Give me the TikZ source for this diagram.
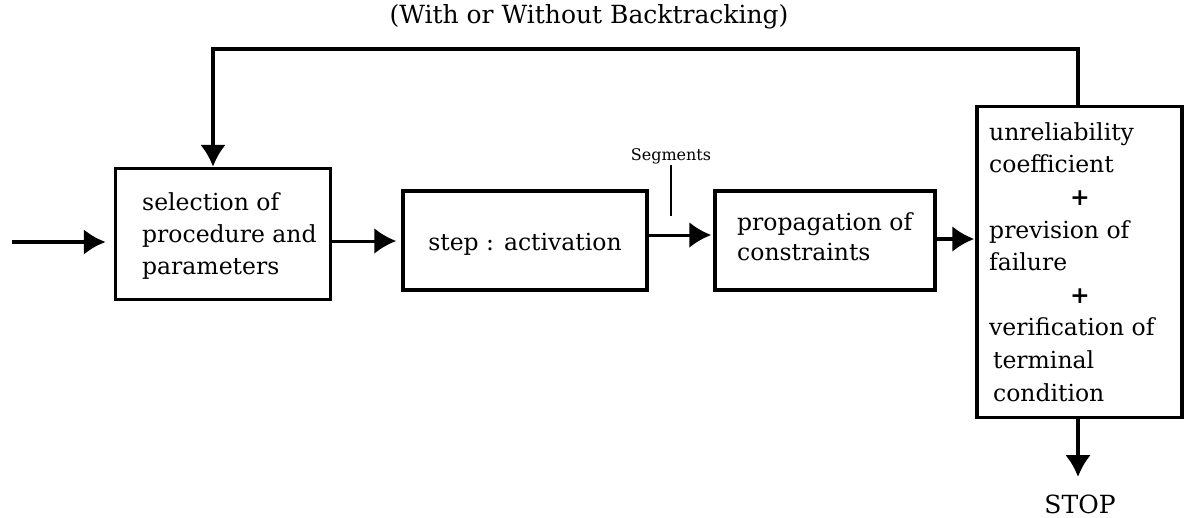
\documentclass[tikz,border=0pt]{standalone}
\usepackage{fontspec}
\setmainfont{DejaVu Serif}
\usetikzlibrary{arrows.meta}
\begin{document}
\begin{tikzpicture}[x=1pt,y=-1pt,
  box/.style={draw,line width=3.5pt,inner sep=0pt},
  conn/.style={line width=3pt,-{Latex[length=22pt,width=26pt]}},
  lbl/.style={font=\fontsize{23.5}{30}\selectfont,inner sep=0pt}]
\useasboundingbox (0,0) rectangle (1191,517);
% boxes
\node[box,minimum width=215pt,minimum height=131pt] (b1) at (223,234) {};
\node[box,minimum width=244pt,minimum height=99pt] (b2) at (525,240.5) {};
\node[box,minimum width=220pt,minimum height=99pt] (b3) at (825,240.5) {};
\node[box,minimum width=205pt,minimum height=311pt] (b4) at (1079.5,262) {};
% texts
\node[lbl,anchor=west,align=left,font=\fontsize{23.5}{32}\selectfont] (t1) at (142,236) {selection of\\procedure and\\parameters};
\node[lbl] (t2) at (525,244) {step : activation};
\node[lbl,anchor=west,align=left,font=\fontsize{23.5}{30}\selectfont] (t3) at (737,237) {propagation of\\constraints};
\node[lbl,anchor=west,align=left,font=\fontsize{23.5}{32.6}\selectfont] (t4) at (989,262) {unreliability\\coefficient\\\hspace*{81pt}\textbf{+}\\prevision of\\failure\\\hspace*{81pt}\textbf{+}\\verification of\\\,terminal\\\,condition};
\node[lbl,font=\fontsize{25}{30}\selectfont] (title) at (589,17) {(With or Without Backtracking)};
\node[lbl,font=\fontsize{16}{20}\selectfont] (seg) at (671,156) {Segments};
\node[lbl,font=\fontsize{25}{30}\selectfont] (stop) at (1080,504) {STOP};
% coordinates
\coordinate (in) at (12,242);
\coordinate (s1) at (671,165);
\coordinate (s2) at (671,216);
\coordinate (fb1) at (1078,49);
\coordinate (fb2) at (213,49);
% connectors
\draw[conn,line width=4.5pt,shorten >=8pt] (in) -- (b1.west |- in);
\draw[conn,shorten >=5pt] (b1.east |- 0,241) -- (b2.west |- 0,241);
\draw[conn,shorten >=2pt] (b2.east |- 0,235) -- (b3.west |- 0,235);
\draw[conn,line width=3.5pt,shorten >=1pt] (b3.east |- 0,239) -- (b4.west |- 0,239);
\draw[conn,line width=4pt] (b4.south -| fb1) -- (1078,477);
\draw[conn,line width=4pt] (b4.north -| fb1) -- (fb1) -- (fb2) -- (b1.north -| fb2);
\draw[line width=1.5pt] (s1) -- (s2);
\end{tikzpicture}
\end{document}
